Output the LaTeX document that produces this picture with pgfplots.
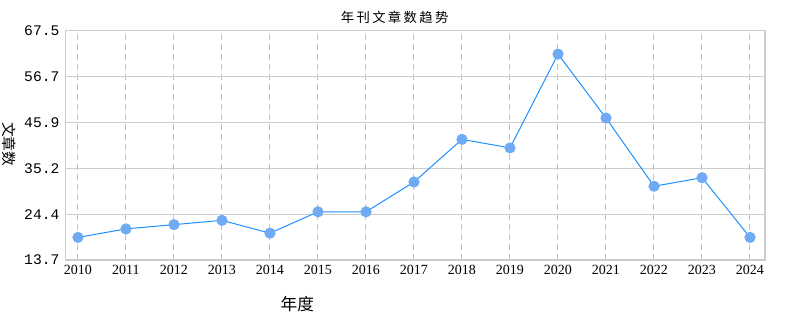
\documentclass[border=0pt]{standalone}
\usepackage{pgfplots}
\pgfplotsset{compat=1.18}
\usepackage{fontspec}
\setmainfont{Liberation Serif}
\newfontfamily\cjk[LetterSpace=18]{Noto Sans CJK SC}
\newfontfamily\cjkb{Noto Sans CJK SC}
\newfontfamily\monof{Liberation Mono}
\definecolor{gridc}{HTML}{CCCCCC}
\definecolor{dashc}{HTML}{C4C4C4}
\definecolor{linec}{HTML}{1E90FF}
\definecolor{markc}{HTML}{70AAF2}
\begin{document}
\begin{tikzpicture}
\useasboundingbox (0,0) rectangle (592.5pt,247.5pt);
\begin{axis}[
  at={(49.1pt,52.5pt)}, anchor=south west,
  scale only axis, width=524.6pt, height=172pt,
  xmin=2009.74, xmax=2024.31,
  ymin=13.7, ymax=67.5,
  xtick={2010,...,2024},
  xticklabel style={font=\fontsize{10.5}{12}\selectfont},
  xticklabels={2010,2011,2012,2013,2014,2015,2016,2017,2018,2019,2020,2021,2022,2023,2024},
  ytick={13.7,24.46,35.22,45.98,56.74,67.5},
  yticklabels={13.7,24.4,35.2,45.9,56.7,67.5},
  yticklabel style={font=\monof\fontsize{11}{12}\selectfont, xshift=-1pt},
  major tick length=0pt,
  axis line style={gridc, line width=0.9pt},
  xmajorgrids, ymajorgrids,
  x grid style={dashc, line width=0.75pt, dash pattern=on 4.5pt off 3pt},
  y grid style={gridc, line width=0.8pt},
  clip=false,
]
\addplot[color=linec, line width=0.75pt, mark=*, mark size=3.8pt,
  mark options={fill=markc, draw=markc}]
  coordinates {
  (2010,19) (2011,21) (2012,22) (2013,23) (2014,20) (2015,25) (2016,25)
  (2017,32) (2018,42) (2019,40) (2020,62) (2021,47) (2022,31) (2023,33) (2024,19)
  };
\end{axis}
\node at (296pt,234.5pt) {\cjk\fontsize{10}{12}\selectfont 年刊文章数趋势};
\node at (223pt,19.5pt) {\cjkb\fontsize{12.5}{14}\selectfont 年度};
\node[rotate=-90] at (6.5pt,139.5pt) {\cjkb\fontsize{11}{13}\selectfont 文章数};
\end{tikzpicture}
\end{document}
